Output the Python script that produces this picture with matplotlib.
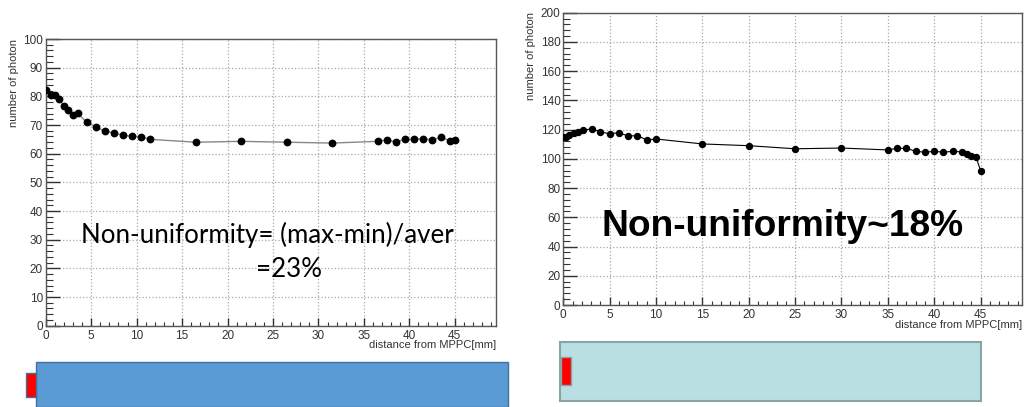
import numpy as np
import matplotlib.pyplot as plt
from matplotlib.patches import Rectangle
from matplotlib.ticker import MultipleLocator

# left scan (blue bar)
x_left = [0, 0.55, 1.0, 1.5, 2.0, 2.5, 3.0, 3.5, 4.5, 5.5, 6.5, 7.5, 8.5, 9.5, 10.5, 11.5,
          16.5, 21.5, 26.5, 31.5, 36.5, 37.5, 38.5, 39.5, 40.5, 41.5, 42.5, 43.5, 44.5, 45.0]
y_left = [82.2, 80.5, 80.5, 79.0, 76.6, 75.2, 73.5, 74.1, 71.0, 69.4, 67.8, 67.3, 66.4, 66.1, 65.9, 65.0,
          64.0, 64.3, 64.0, 63.7, 64.3, 64.8, 64.1, 65.0, 65.0, 65.2, 64.8, 65.7, 64.5, 64.6]

# right scan (light bar)
x_right = [0, 0.3, 0.6, 1.1, 1.6, 2.1, 3.1, 4.0, 5.0, 6.0, 7.0, 8.0, 9.0, 10.0, 15.0, 20.0,
           25.0, 30.0, 35.0, 36.0, 37.0, 38.0, 39.0, 40.0, 41.0, 42.0, 43.0, 43.5, 44.0, 44.5, 45.0]
y_right = [114.7, 115.2, 116.1, 117.5, 118.2, 119.5, 120.6, 118.4, 117.2, 117.9, 115.6, 115.9, 112.9, 113.6, 110.2, 109.0,
           106.9, 107.4, 106.1, 107.2, 107.2, 105.2, 104.5, 105.2, 104.5, 105.2, 104.7, 103.3, 101.7, 101.5, 91.9]

W, H = 1029, 407


def box(l, t, r, b):
    # pixel box -> figure fraction
    return [l / W, 1 - b / H, (r - l) / W, (b - t) / H]


fig = plt.figure(figsize=(W / 100, H / 100), dpi=100)
fig.patch.set_facecolor('white')

# bars under the plots
bg = fig.add_axes([0, 0, 1, 1])
bg.set_xlim(0, W)
bg.set_ylim(H, 0)
bg.axis('off')
bg.add_patch(Rectangle((36, 361.5), 472, 45, facecolor='#5B9BD5', edgecolor='#41719C', lw=1))
bg.add_patch(Rectangle((26, 372.5), 10, 24, facecolor='#FF0000', edgecolor='#41719C', lw=1))
bg.add_patch(Rectangle((559.5, 341.5), 421.5, 59.5, facecolor='#BADFE3', edgecolor='#8AA3A5', lw=1.5))
bg.add_patch(Rectangle((561, 357), 9.5, 27.5, facecolor='#FF0000', edgecolor='#8AA3A5', lw=1))


def style(ax, ymax, ymajor, yminor):
    ax.set_xlim(0, 49.5)
    ax.set_ylim(0, ymax)
    ax.xaxis.set_major_locator(MultipleLocator(5))
    ax.xaxis.set_minor_locator(MultipleLocator(1))
    ax.yaxis.set_major_locator(MultipleLocator(ymajor))
    ax.yaxis.set_minor_locator(MultipleLocator(yminor))
    ax.grid(True, which='major', linestyle=':', color='#a8a8a8', lw=0.9)
    ax.tick_params(axis='y', which='major', direction='in', length=10, width=1, color='#333333',
                   labelsize=8.5, labelcolor='#333333', pad=2)
    ax.tick_params(axis='y', which='minor', direction='in', length=5, width=0.8, color='#333333')
    ax.tick_params(axis='x', which='major', direction='in', length=6, width=1, color='#333333',
                   labelsize=8.5, labelcolor='#333333', pad=3)
    ax.tick_params(axis='x', which='minor', direction='in', length=3, width=0.8, color='#333333')
    for s in ax.spines.values():
        s.set_color('#555555')
        s.set_linewidth(1)
    for lab in ax.get_xticklabels() + ax.get_yticklabels():
        lab.set_fontfamily('Liberation Sans')


ax1 = fig.add_axes(box(45.7, 39, 495.7, 325.7))
style(ax1, 100, 10, 2)
ax1.plot(x_left, y_left, color='#888888', lw=1, zorder=2)
ax1.plot(x_left, y_left, 'o', color='black', ms=4.6, zorder=3)

ax2 = fig.add_axes(box(563.3, 12.7, 1022.3, 305))
style(ax2, 200, 20, 4)
ax2.plot(x_right, y_right, color='black', lw=0.8, zorder=2)
ax2.plot(x_right, y_right, 'o', color='black', ms=4.3, zorder=3)

# axis titles (ROOT style: y title at top, x title at right)
lab = dict(fontsize=8, color='#333333', family='Liberation Sans')
fig.text(14 / W, 1 - 39 / H, 'number of photon', rotation=90, ha='center', va='top', **lab)
fig.text(495.7 / W, 1 - 345 / H, 'distance from MPPC[mm]', ha='right', va='center', **lab)
fig.text(531 / W, 1 - 12 / H, 'number of photon', rotation=90, ha='center', va='top', **lab)
fig.text(1021.7 / W, 1 - 325.5 / H, 'distance from MPPC[mm]', ha='right', va='center', **lab)

# annotations
fig.text(267 / W, 1 - 243 / H, 'Non-uniformity= (max-min)/aver', ha='center', va='baseline',
         fontsize=18.6, family='Lato', color='black')
fig.text(289.5 / W, 1 - 277 / H, '=23%', ha='center', va='baseline',
         fontsize=18.6, family='Lato', color='black')
fig.text(782.5 / W, 1 - 236 / H, 'Non-uniformity~18%', ha='center', va='baseline',
         fontsize=26.7, family='Liberation Sans', weight='bold', color='black')

fig.savefig('out.png', dpi=100)
